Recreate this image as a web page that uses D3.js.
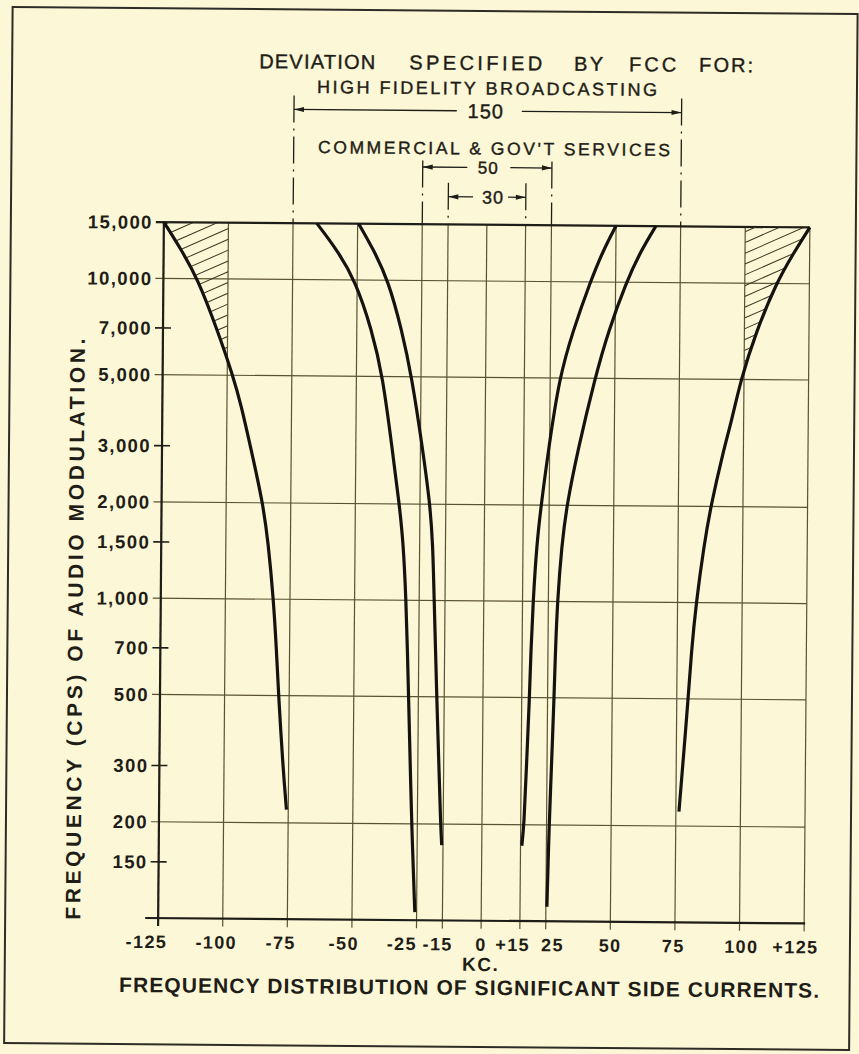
<!DOCTYPE html>
<html>
<head>
<meta charset="utf-8">
<script src="https://cdn.jsdelivr.net/npm/d3@7"></script>
<style>
  html, body { margin: 0; padding: 0; background: #fcf7d6; }
  svg { display: block; }
</style>
</head>
<body>
<svg id="chart" width="859" height="1054"></svg>
<script>
// Audio modulation frequency (cycles per second) plotted against the
// extent of the significant side currents (kc) for each deviation limit.

const xTicks = [-125, -100, -75, -50, -25, -15, 0, 15, 25, 50, 75, 100, 125];
const xTickLabels = ["-125", "-100", "-75", "-50", "-25", "-15", "0", "+15", "25", "50", "75", "100", "+125"];
const yTicks = [15000, 10000, 7000, 5000, 3000, 2000, 1500, 1000, 700, 500, 300, 200, 150];
const yTickLabels = ["15,000", "10,000", "7,000", "5,000", "3,000", "2,000", "1,500", "1,000", "700", "500", "300", "200", "150"];
const yGridValues = [10000, 5000, 2000, 1000, 500, 200];

// Each point: [audio frequency in cps, side-current limit in kc]
const dev75Lower = [[15000, -125], [12500, -118.7], [10000, -111.7], [7000, -104.2], [5000, -97.8], [4000, -94.4], [3000, -90.8], [2000, -85.8], [1500, -83.6], [1000, -81.4], [700, -80.1], [500, -79.1], [300, -77.2], [220, -75.7]];
const dev75Upper = [[15000, 125], [12500, 118.9], [10000, 112.1], [7000, 104.4], [5000, 98.8], [3700, 95.3], [3000, 92.3], [2000, 87.5], [1500, 85], [1000, 82.2], [700, 80.5], [500, 79.4], [300, 77.4], [222, 76.2]];
const dev25Lower = [[15000, -65.8], [12500, -58.2], [10000, -50.8], [7000, -44.2], [5000, -39.8], [3000, -36], [2000, -33], [1500, -31.3], [1000, -30.1], [700, -29.4], [500, -28.8], [300, -27.9], [200, -27.2], [106, -25.7]];
const dev15Lower = [[15000, -49.6], [12500, -43.9], [10000, -38], [7000, -32.6], [5000, -28.6], [3000, -24.2], [2000, -21.1], [1500, -19.9], [1000, -19.2], [700, -18.5], [500, -17.9], [300, -16.8], [200, -16], [172, -15.5]];
const dev15Upper = [[15000, 50], [12500, 45], [10000, 40.2], [7000, 33.6], [5000, 28.5], [3000, 24.6], [2000, 21.9], [1500, 20.3], [1000, 19.1], [700, 18.4], [500, 18], [300, 17], [200, 16.3], [172, 15.5]];
const dev25Upper = [[15000, 65.4], [12500, 59.6], [10000, 54.1], [7000, 47.3], [5000, 42.3], [3000, 36], [2000, 31.8], [1500, 30], [1000, 28.5], [700, 27.9], [500, 27.5], [300, 26.7], [200, 26], [111, 25.4]];

// Limit beyond which the 75 kc side currents are shaded
const shadeLimits = [-100, 100];

// Deviation spans marked above the grid
const spanLabels = ["150", "50", "30"];
const spanLimits = [[-75, 75], [-25, 25], [-15, 15]];

// ---------------------------------------------------------------------------
const W = 859, H = 1054;
const ink = "#1f1d17";
const gridInk = "#5b5232";
const font = "'Liberation Sans', Arial, sans-serif";

const x = d3.scaleLinear().domain([-125, 125]).range([161, 807]);
const y = d3.scaleLog().domain([100, 15000]).range([920.75, 224.75]);
const x0 = x(-125), x1 = x(125), yTop = y(15000), yBot = y(100);

const svg = d3.select("#chart");
svg.append("rect").attr("width", W).attr("height", H).attr("fill", "#fcf7d6");

// the sheet sits slightly askew
const sheet = svg.append("g").attr("transform", "rotate(0.47, 484, 573)");

sheet.append("rect")
  .attr("x", 8).attr("y", 11).attr("width", 845).attr("height", 1036)
  .attr("fill", "none").attr("stroke", "#2e2c26").attr("stroke-width", 2);

const defs = svg.append("defs");

// ---- grid ----
const grid = sheet.append("g").attr("stroke", gridInk).attr("stroke-width", 1.2).attr("fill", "none");
grid.selectAll("line.v").data(xTicks).join("line")
  .attr("class", "v")
  .attr("x1", d => x(d)).attr("x2", d => x(d))
  .attr("y1", yBot + 8).attr("y2", yTop);
grid.selectAll("line.h").data(yGridValues).join("line")
  .attr("class", "h")
  .attr("x1", x0 - 8).attr("x2", x1)
  .attr("y1", d => y(d)).attr("y2", d => y(d));
grid.selectAll("line.t").data(yTicks.filter(t => !yGridValues.includes(t) && t !== 15000)).join("line")
  .attr("class", "t")
  .attr("stroke", ink).attr("stroke-width", 1.6)
  .attr("x1", x0 - 8).attr("x2", x0 + 8)
  .attr("y1", d => y(d)).attr("y2", d => y(d));

// ---- axes ----
const axes = sheet.append("g").attr("stroke", ink).attr("stroke-width", 2.2).attr("fill", "none");
axes.append("line").attr("x1", x0).attr("x2", x0).attr("y1", yTop).attr("y2", yBot + 8);
axes.append("line").attr("x1", x0 - 13).attr("x2", x1 + 1).attr("y1", yBot).attr("y2", yBot);
axes.append("line").attr("x1", x0 - 8).attr("x2", x1).attr("y1", yTop).attr("y2", yTop);

// ---- curves ----
const line = d3.line()
  .x(d => x(d[1]))
  .y(d => y(d[0]))
  .curve(d3.curveBasis);

// ---- shaded regions between the 75 kc curves and the ±100 kc lines ----
function shade(id, curve, limit, side) {
  const clipA = defs.append("clipPath").attr("id", id + "-a");
  const last = curve[curve.length - 1];
  clipA.append("path").attr("d",
    line(curve) + `L${x(limit)},${y(last[0])}L${x(limit)},${y(curve[0][0])}Z`);
  const clipB = defs.append("clipPath").attr("id", id + "-b");
  const xa = side < 0 ? x0 - 5 : x(limit);
  const xb = side < 0 ? x(limit) : x1 + 5;
  clipB.append("rect").attr("x", xa).attr("y", yTop).attr("width", xb - xa).attr("height", yBot - yTop);
  const g = sheet.append("g").attr("clip-path", `url(#${id}-b)`)
    .append("g").attr("clip-path", `url(#${id}-a)`)
    .attr("stroke", "#3b3622").attr("stroke-width", 1);
  const slope = 0.45, step = 10.8;
  for (let c = yTop - 60; c < yTop + 260; c += step) {
    g.append("line")
      .attr("x1", xa).attr("y1", c)
      .attr("x2", xb).attr("y2", c - slope * (xb - xa));
  }
}
shade("shade-l", dev75Lower, shadeLimits[0], -1);
shade("shade-r", dev75Upper, shadeLimits[1], 1);

const curves = [dev75Lower, dev25Lower, dev15Lower, dev15Upper, dev25Upper, dev75Upper];
sheet.append("g").selectAll("path").data(curves).join("path")
  .attr("d", line)
  .attr("fill", "none")
  .attr("stroke", "#141311")
  .attr("stroke-width", 3.2)
  .attr("stroke-linecap", "butt");

// ---- tick labels ----
const xLabelNudge = { "-125": -11.5, "-100": -6.3, "-75": -6.5, "-50": -8, "-25": -14.5, "-15": -4.5, "0": 0,
  "+15": -7, "25": 7, "50": 0, "75": -1.5, "100": 2, "+125": -8.5 };
sheet.append("g").selectAll("text").data(xTicks).join("text")
  .attr("x", (d, i) => x(d) + xLabelNudge[xTickLabels[i]])
  .attr("y", yBot + 30)
  .attr("text-anchor", "middle")
  .attr("font-family", font).attr("font-weight", "bold").attr("font-size", 18)
  .attr("letter-spacing", 1.4)
  .attr("fill", ink)
  .text((d, i) => xTickLabels[i]);

sheet.append("g").selectAll("text").data(yTicks).join("text")
  .attr("x", x0 - 11)
  .attr("y", d => y(d))
  .attr("dy", "0.36em")
  .attr("text-anchor", "end")
  .attr("font-family", font).attr("font-weight", "bold").attr("font-size", 18.5)
  .attr("letter-spacing", 1.4)
  .attr("fill", ink)
  .text((d, i) => yTickLabels[i]);

// ---- axis titles ----
sheet.append("text")
  .attr("x", 484).attr("y", 971)
  .attr("text-anchor", "middle")
  .attr("font-family", font).attr("font-weight", "bold").attr("font-size", 19)
  .attr("letter-spacing", 1.5)
  .attr("fill", ink)
  .text("KC.");

sheet.append("text")
  .attr("x", 122.5).attr("y", 995)
  .attr("textLength", 700).attr("lengthAdjust", "spacing")
  .attr("font-family", font).attr("font-weight", "bold").attr("font-size", 21)
  .attr("fill", ink)
  .text("FREQUENCY DISTRIBUTION OF SIGNIFICANT SIDE CURRENTS.");

sheet.append("text")
  .attr("transform", "translate(83,923) rotate(-90)")
  .attr("textLength", 581).attr("lengthAdjust", "spacing")
  .attr("font-family", font).attr("font-weight", "bold").attr("font-size", 21)
  .attr("fill", ink)
  .text("FREQUENCY (CPS) OF AUDIO MODULATION.");

// ---- heading (lettered with a slightly heavier pen) ----
const heading = sheet.append("g")
  .attr("font-family", font).attr("fill", ink)
  .attr("stroke", ink).attr("stroke-width", 0.4);

const headingWords = [["DEVIATION", 255, 371], ["SPECIFIED", 405, 538], ["BY", 570, 599], ["FCC", 625, 672], ["FOR:", 695, 749]];
heading.selectAll("text.w").data(headingWords).join("text")
  .attr("class", "w")
  .attr("x", d => d[1]).attr("y", 70)
  .attr("textLength", d => d[2] - d[1]).attr("lengthAdjust", "spacing")
  .attr("font-size", 20)
  .text(d => d[0]);

heading.append("text")
  .attr("x", 313).attr("y", 94.5)
  .attr("textLength", 340).attr("lengthAdjust", "spacing")
  .attr("font-size", 18)
  .text("HIGH FIDELITY BROADCASTING");

heading.append("text")
  .attr("x", 314.6).attr("y", 154.5)
  .attr("textLength", 352).attr("lengthAdjust", "spacing")
  .attr("font-size", 17.5)
  .text("COMMERCIAL & GOV'T SERVICES");

// ---- deviation spans ----
const spanRows = [
  { y: 111, top: 97, gap: [453, 518], tx: 482, size: 20 },
  { y: 167.5, top: 161, gap: [464, 507], tx: 485, size: 17 },
  { y: 197, top: 183, gap: [470, 505], tx: 490, size: 18 }
];
const dims = sheet.append("g");
spanLimits.forEach((lim, i) => {
  const r = spanRows[i];
  const xa = x(lim[0]), xb = x(lim[1]);
  // extension lines down to the top of the grid
  [xa, xb].forEach(xx => {
    dims.append("line")
      .attr("x1", xx).attr("x2", xx).attr("y1", r.top).attr("y2", yTop)
      .attr("stroke", ink).attr("stroke-width", 1.3)
      .attr("stroke-dasharray", "27,6,2,6");
  });
  dims.append("line").attr("x1", xa).attr("x2", r.gap[0]).attr("y1", r.y).attr("y2", r.y)
    .attr("stroke", ink).attr("stroke-width", 1.3);
  dims.append("line").attr("x1", r.gap[1]).attr("x2", xb).attr("y1", r.y).attr("y2", r.y)
    .attr("stroke", ink).attr("stroke-width", 1.3);
  [[xa, -1], [xb, 1]].forEach(([tx, dir]) => {
    dims.append("path")
      .attr("d", `M${tx},${r.y}L${tx - dir * 10},${r.y - 2.6}L${tx - dir * 10},${r.y + 2.6}Z`)
      .attr("fill", ink);
  });
  dims.append("text")
    .attr("x", r.tx).attr("y", r.y + r.size * 0.36)
    .attr("text-anchor", "middle")
    .attr("font-family", font).attr("font-size", r.size)
    .attr("letter-spacing", 1)
    .attr("fill", ink).attr("stroke", ink).attr("stroke-width", 0.4)
    .text(spanLabels[i]);
});
</script>
</body>
</html>
